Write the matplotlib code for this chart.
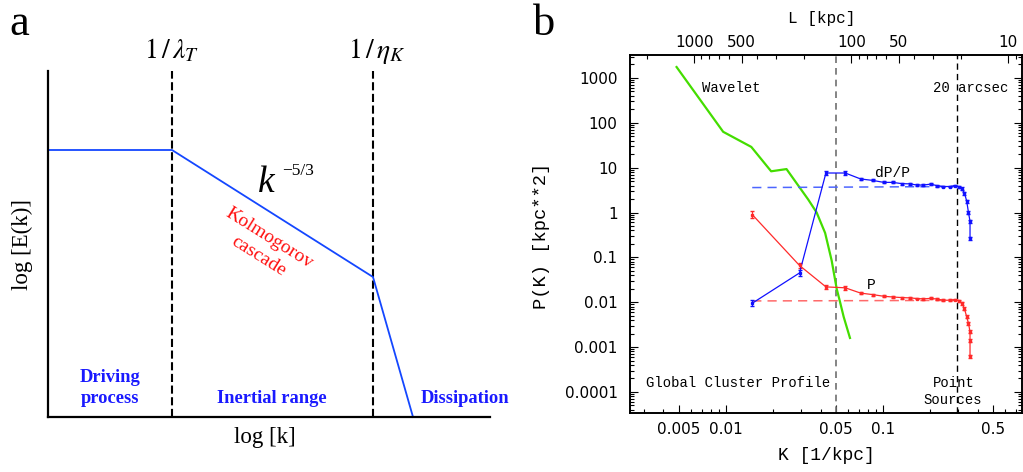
import numpy as np
import matplotlib
matplotlib.use("Agg")
import matplotlib.pyplot as plt
from matplotlib.ticker import FixedLocator, FixedFormatter, LogLocator, NullFormatter

plt.rcParams['mathtext.fontset'] = 'stix'

# ---------------- panel a: schematic turbulence spectrum ----------------
logk_nodes = [0, 124, 325, 365]          # log k of the spectrum break points
logE_nodes = [267, 267, 140, 0]          # log E(k) at those points
scale_marks = [124, 325]                 # 1/lambda_T and 1/eta_K

# ---------------- panel b: measured power spectrum ----------------
K_P = [0.0147, 0.0294, 0.0433, 0.0575, 0.072, 0.086, 0.101, 0.115, 0.132,
       0.149, 0.164, 0.181, 0.201, 0.22, 0.242, 0.267, 0.288, 0.306,
       0.318, 0.33, 0.341, 0.35, 0.358, 0.358, 0.358]
P_val = [0.9, 0.066, 0.022, 0.021, 0.016, 0.0148, 0.0136, 0.0131, 0.0127,
         0.0125, 0.0121, 0.0119, 0.0122, 0.0118, 0.0111, 0.0111, 0.0115, 0.0108,
         0.0094, 0.0072, 0.0047, 0.0034, 0.0022, 0.0014, 0.00063]
P_err = [0.18, 0.14, 0.12, 0.1] + [0.05] * 14 + [0.08] * 7

K_D = [0.0147, 0.0294, 0.0433, 0.0575, 0.072, 0.086, 0.101, 0.115, 0.132,
       0.149, 0.164, 0.181, 0.201, 0.22, 0.242, 0.267, 0.288, 0.306,
       0.318, 0.33, 0.341, 0.35, 0.358, 0.358]
D_val = [0.0095, 0.045, 7.6, 7.6, 5.6, 5.2, 4.7, 4.7, 4.4,
         4.35, 4.1, 4.1, 4.3, 3.98, 3.8, 3.8, 4.0, 3.7,
         3.4, 2.7, 1.8, 1.0, 0.64, 0.27]
D_err = [0.18, 0.14, 0.12, 0.1] + [0.05] * 14 + [0.08] * 6

fit_K = [0.0147, 0.306]
fit_P = [0.0107, 0.011]
fit_D = [3.6, 3.8]

K_W = [0.00485, 0.0096, 0.0145, 0.0194, 0.0243, 0.0334, 0.0378, 0.0428,
       0.0471, 0.0507, 0.0533, 0.0562, 0.0616]
W_val = [1750, 63, 29, 8.3, 9.3, 1.95, 1.0, 0.35, 0.085, 0.02, 0.01, 0.0047, 0.0016]

K_profile = 0.05       # global cluster profile limit
K_psf = 0.296          # 20 arcsec limit

K_range = (0.00245, 0.767)
P_range = (3.4e-5, 3245)

x_ticks = [0.005, 0.01, 0.05, 0.1, 0.5]
x_ticklabels = ['0.005', '0.01', '0.05', '0.1', '0.5']
L_ticks = [1000, 500, 100, 50, 10]
L_ticklabels = ['1000', '500', '100', '50', '10']
y_ticks = [1e-4, 1e-3, 1e-2, 1e-1, 1, 10, 100, 1000]
y_ticklabels = ['0.0001', '0.001', '0.01', '0.1', '1', '10', '100', '1000']

W, H = 1023, 472
fig = plt.figure(figsize=(W / 100, H / 100), dpi=100)


def px(x, y):
    """pixel position (from top-left) to figure fraction"""
    return x / W, 1 - y / H


SERIF = 'Liberation Serif'
MONO = 'Liberation Mono'

# ================= panel a =================
axA = fig.add_axes([48 / W, (H - 417) / H, 442 / W, 346 / H])
axA.set_xlim(0, 442)
axA.set_ylim(0, 346)
for s in ('top', 'right'):
    axA.spines[s].set_visible(False)
for s in ('left', 'bottom'):
    axA.spines[s].set_linewidth(1.6)
axA.set_xticks([])
axA.set_yticks([])
axA.patch.set_alpha(0)

axA.vlines(scale_marks, 0, 346, colors='black', linewidth=1.5,
           linestyles=(0, (3.9, 1.7)))
axA.plot(logk_nodes, logE_nodes, color='#1447ff', linewidth=1.3,
         clip_on=False, solid_joinstyle='miter')

fig.text(*px(19, 35), 'a', fontsize=32, family=SERIF, ha='center', va='baseline')
fig.text(*px(172, 58), r'$1\,/\,\lambda_T$', fontsize=20, ha='center', va='baseline')
fig.text(*px(377, 58), r'$1\,/\,\eta_K$', fontsize=20, ha='center', va='baseline')
fig.text(*px(258, 192), 'k', fontsize=27, family=SERIF, style='italic',
         ha='left', va='baseline')
fig.text(*px(282, 175), '\u22125/3', fontsize=12.5, family=SERIF,
         ha='left', va='baseline')
fig.text(*px(264, 247), 'Kolmogorov\ncascade', fontsize=14, family=SERIF,
         color='#ff1010', rotation=-32, rotation_mode='anchor',
         ha='center', va='center', multialignment='center', linespacing=1.3)

blue_txt = '#1a1aff'
blue_kw = dict(fontsize=13.3, family=SERIF, weight='bold', color=blue_txt,
               ha='center', va='baseline')
fig.text(*px(110, 381.7), 'Driving', **blue_kw)
fig.text(*px(110, 403), 'process', **blue_kw)
fig.text(*px(272, 403), 'Inertial range', **blue_kw)
fig.text(*px(465, 403), 'Dissipation', **blue_kw)

fig.text(*px(265, 437), 'log [k]', fontsize=16.5, family=SERIF,
         ha='center', va='center')
fig.text(*px(22, 244), 'log [E(k)]', fontsize=16.5, family=SERIF,
         rotation=90, ha='center', va='center')

# ================= panel b =================
axB = fig.add_axes([630 / W, (H - 413) / H, 392 / W, 358 / H])
axB.set_xscale('log')
axB.set_yscale('log')
axB.set_xlim(*K_range)
axB.set_ylim(*P_range)
for s in axB.spines.values():
    s.set_linewidth(1.2)

axB.axvline(K_profile, color='#707070', linewidth=1.2, linestyle=(0, (4, 3)))
axB.axvline(K_psf, color='black', linewidth=1.0, linestyle=(0, (4.5, 3)))

axB.plot(K_W, W_val, color='#44dd00', linewidth=1.6)

axB.plot(fit_K, fit_D, color='#4d66ff', linewidth=1.1, linestyle=(0, (6, 4)))
axB.plot(fit_K, fit_P, color='#ff6a6a', linewidth=1.1, linestyle=(0, (6, 4)))


def err(vals, frac):
    v = np.asarray(vals)
    f = np.asarray(frac)
    return [v - v / (1 + f), v * f]


axB.errorbar(K_D, D_val, yerr=err(D_val, D_err), color='#1010ff', linewidth=0.9,
             elinewidth=0.9, capsize=1.6, marker='s', markersize=1.4)
axB.errorbar(K_P, P_val, yerr=err(P_val, P_err), color='#ff2a2a', linewidth=0.9,
             elinewidth=0.9, capsize=1.6, marker='s', markersize=1.4)

tick_font = dict(family='DejaVu Sans', size=11)

axB.xaxis.set_major_locator(FixedLocator(x_ticks))
axB.xaxis.set_major_formatter(FixedFormatter(x_ticklabels))
axB.xaxis.set_minor_locator(LogLocator(subs=np.arange(2, 10)))
axB.xaxis.set_minor_formatter(NullFormatter())
axB.yaxis.set_major_locator(FixedLocator(y_ticks))
axB.yaxis.set_major_formatter(FixedFormatter(y_ticklabels))
axB.yaxis.set_minor_locator(LogLocator(subs=np.arange(2, 10), numticks=20))
axB.yaxis.set_minor_formatter(NullFormatter())
axB.tick_params(which='both', direction='in', right=True, top=False, width=0.8)
axB.tick_params(which='major', length=6)
axB.tick_params(which='minor', length=3)
axB.tick_params(axis='y', which='major', pad=9)
axB.tick_params(axis='x', which='major', pad=6.5)
for lab in axB.get_xticklabels() + axB.get_yticklabels():
    lab.set_fontfamily(tick_font['family'])
    lab.set_fontsize(tick_font['size'])

# top axis in length scale L = 2 pi / K
axT = axB.twiny()
axT.set_xscale('log')
axT.set_xlim(2 * np.pi / K_range[0], 2 * np.pi / K_range[1])
axT.xaxis.set_major_locator(FixedLocator(L_ticks))
axT.xaxis.set_major_formatter(FixedFormatter(L_ticklabels))
axT.xaxis.set_minor_locator(LogLocator(subs=np.arange(2, 10)))
axT.xaxis.set_minor_formatter(NullFormatter())
axT.tick_params(which='both', direction='in', width=0.8)
axT.tick_params(which='major', length=6, pad=3.5)
axT.tick_params(which='minor', length=3)
for lab in axT.get_xticklabels():
    lab.set_fontfamily(tick_font['family'])
    lab.set_fontsize(tick_font['size'])
for s in axT.spines.values():
    s.set_linewidth(1.2)

fig.text(*px(821.7, 18), 'L [kpc]', fontsize=11.5, family=MONO, ha='center', va='center')
fig.text(*px(826.7, 455), 'K [1/kpc]', fontsize=13, family=MONO, ha='center', va='center')
fig.text(*px(541, 236), 'P(K) [kpc**2]', fontsize=13.5, family=MONO,
         rotation=90, ha='center', va='center')

note_kw = dict(fontsize=10, family=MONO, va='baseline')
fig.text(*px(701.7, 91.7), 'Wavelet', ha='left', **note_kw)
fig.text(*px(932.7, 91.7), '20 arcsec', ha='left', **note_kw)
fig.text(*px(875, 176.7), 'dP/P', ha='left', fontsize=10.5, family=MONO, va='baseline')
fig.text(*px(866.7, 289.3), 'P', ha='left', fontsize=10.5, family=MONO, va='baseline')
fig.text(*px(646, 386.7), 'Global Cluster Profile', ha='left', **note_kw)
fig.text(*px(954, 386.7), 'Point', ha='center', **note_kw)
fig.text(*px(953, 404.3), 'Sources', ha='center', **note_kw)

fig.text(*px(544, 35), 'b', fontsize=32, family=SERIF, ha='center', va='baseline')

fig.savefig('out.png', dpi=100)
